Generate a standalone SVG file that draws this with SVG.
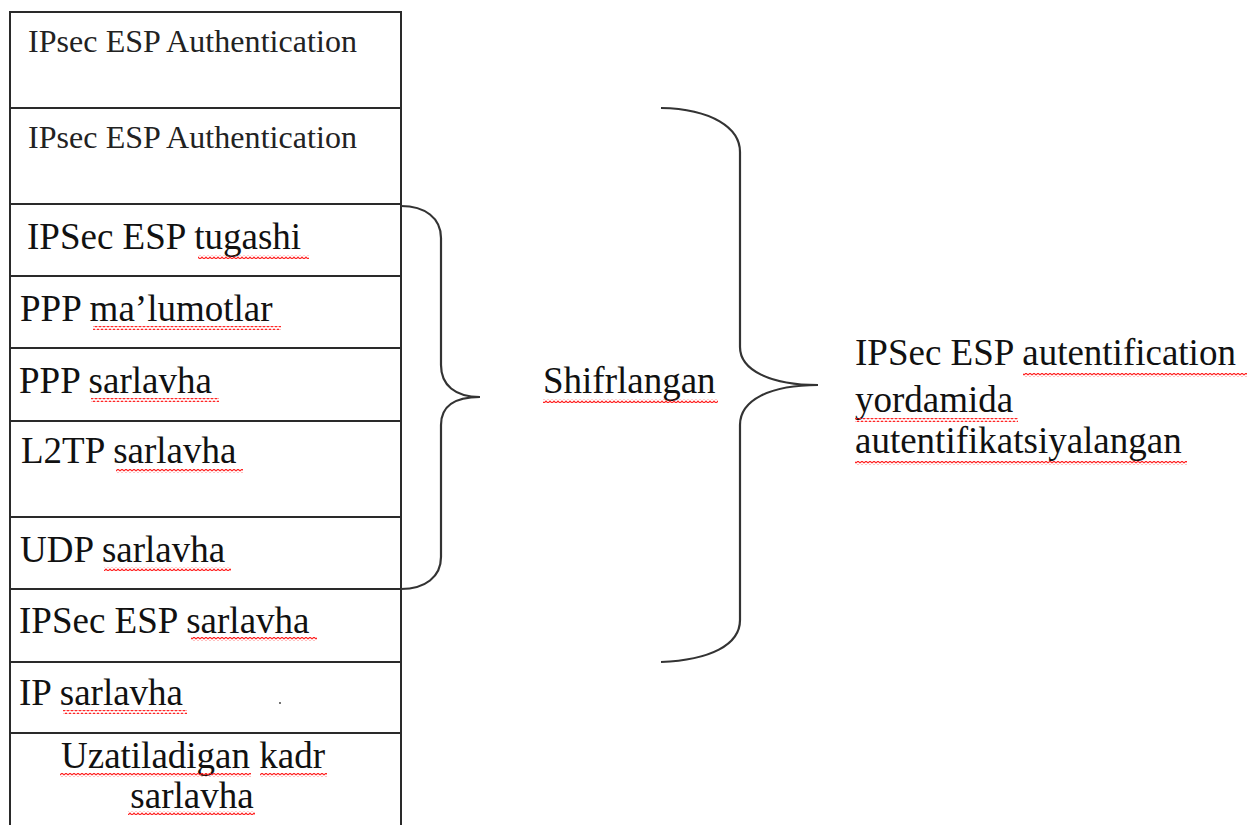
<svg xmlns="http://www.w3.org/2000/svg" width="1247" height="825" viewBox="0 0 1247 825">
<style>
.t{font-size:37px;fill:#111}
.ts{font-size:32px;fill:#222}
.ln{stroke:#2a2a2a;stroke-width:2;fill:none}
.br{stroke:#333;stroke-width:2.2;fill:none}
.w{fill:url(#wave)}
</style>
<defs>
<pattern id="wave" x="0" y="0" width="4" height="4" patternUnits="userSpaceOnUse">
<path d="M0,3 L2,1 L4,3" stroke="#ff2020" stroke-width="1.2" fill="none"/>
</pattern>
</defs>
<rect width="1247" height="825" fill="#fff"/>
<g id="table">
<line class="ln" x1="10" y1="11" x2="10" y2="825"/>
<line class="ln" x1="401" y1="11" x2="401" y2="825"/>
<line class="ln" x1="10" y1="12" x2="401" y2="12"/>
<line class="ln" x1="10" y1="108" x2="401" y2="108"/>
<line class="ln" x1="10" y1="204" x2="401" y2="204"/>
<line class="ln" x1="10" y1="276" x2="401" y2="276"/>
<line class="ln" x1="10" y1="348" x2="401" y2="348"/>
<line class="ln" x1="10" y1="421" x2="401" y2="421"/>
<line class="ln" x1="10" y1="517" x2="401" y2="517"/>
<line class="ln" x1="10" y1="589" x2="401" y2="589"/>
<line class="ln" x1="10" y1="662" x2="401" y2="662"/>
<line class="ln" x1="10" y1="733" x2="401" y2="733"/>
</g>
<g font-family="Liberation Serif, serif">
<g id="row1"><text class="ts" x="28" y="52" textLength="329">IPsec ESP Authentication</text></g>
<g id="row2"><text class="ts" x="28" y="148" textLength="329">IPsec ESP Authentication</text></g>
<g id="row3"><text class="t" x="27" y="249">IPSec ESP tugashi</text><rect class="w" x="198" y="255" width="111" height="4"/></g>
<g id="row4"><text class="t" x="20" y="321">PPP ma’lumotlar</text><rect class="w" x="93" y="326" width="188" height="4"/></g>
<g id="row5"><text class="t" x="19" y="393">PPP sarlavha</text><rect class="w" x="91" y="398" width="128" height="4"/></g>
<g id="row6"><text class="t" x="21" y="463">L2TP sarlavha</text><rect class="w" x="116" y="469" width="127" height="4"/></g>
<g id="row7"><text class="t" x="20" y="562">UDP sarlavha</text><rect class="w" x="104" y="567" width="127" height="4"/></g>
<g id="row8"><text class="t" x="19" y="633">IPSec ESP sarlavha</text><rect class="w" x="191" y="637" width="126" height="4"/></g>
<g id="row9"><text class="t" x="19" y="705">IP sarlavha</text><rect class="w" x="63" y="710" width="124" height="4"/><circle cx="280" cy="703" r="0.9" fill="#333"/></g>
<g id="row10">
<text class="t" x="193" y="768" text-anchor="middle">Uzatiladigan kadr</text>
<text class="t" x="192" y="808" text-anchor="middle">sarlavha</text>
<rect class="w" x="60" y="773" width="191" height="4"/><rect class="w" x="260" y="773" width="67" height="4"/>
<rect class="w" x="128" y="811" width="127" height="4"/>
</g>
<g id="label-shifr"><text class="t" x="543" y="393">Shifrlangan</text><rect class="w" x="543" y="399" width="175" height="4"/></g>
<g id="label-auth">
<text class="t" x="855" y="365">IPSec ESP autentification</text>
<text class="t" x="855" y="412">yordamida</text>
<text class="t" x="855" y="453">autentifikatsiyalangan</text>
<rect class="w" x="1023" y="373" width="224" height="4"/>
<rect class="w" x="855" y="418" width="163" height="4"/>
<rect class="w" x="855" y="461" width="332" height="4"/>
</g>
</g>
<g id="connectors">
<path class="br" d="M401,206 C425,206 441,218 441,238 L441,365 C441,385 455,397 480,397 C455,397 441,405 441,425 L441,557 C441,577 425,589 401,589"/>
<path class="br" d="M661,108 C712,109 740,128 740,152 L740,347 C740,370 770,385 818,385 C770,385 740,400 740,425 L740,620 C740,645 710,660 661,662"/>
</g>
</svg>
